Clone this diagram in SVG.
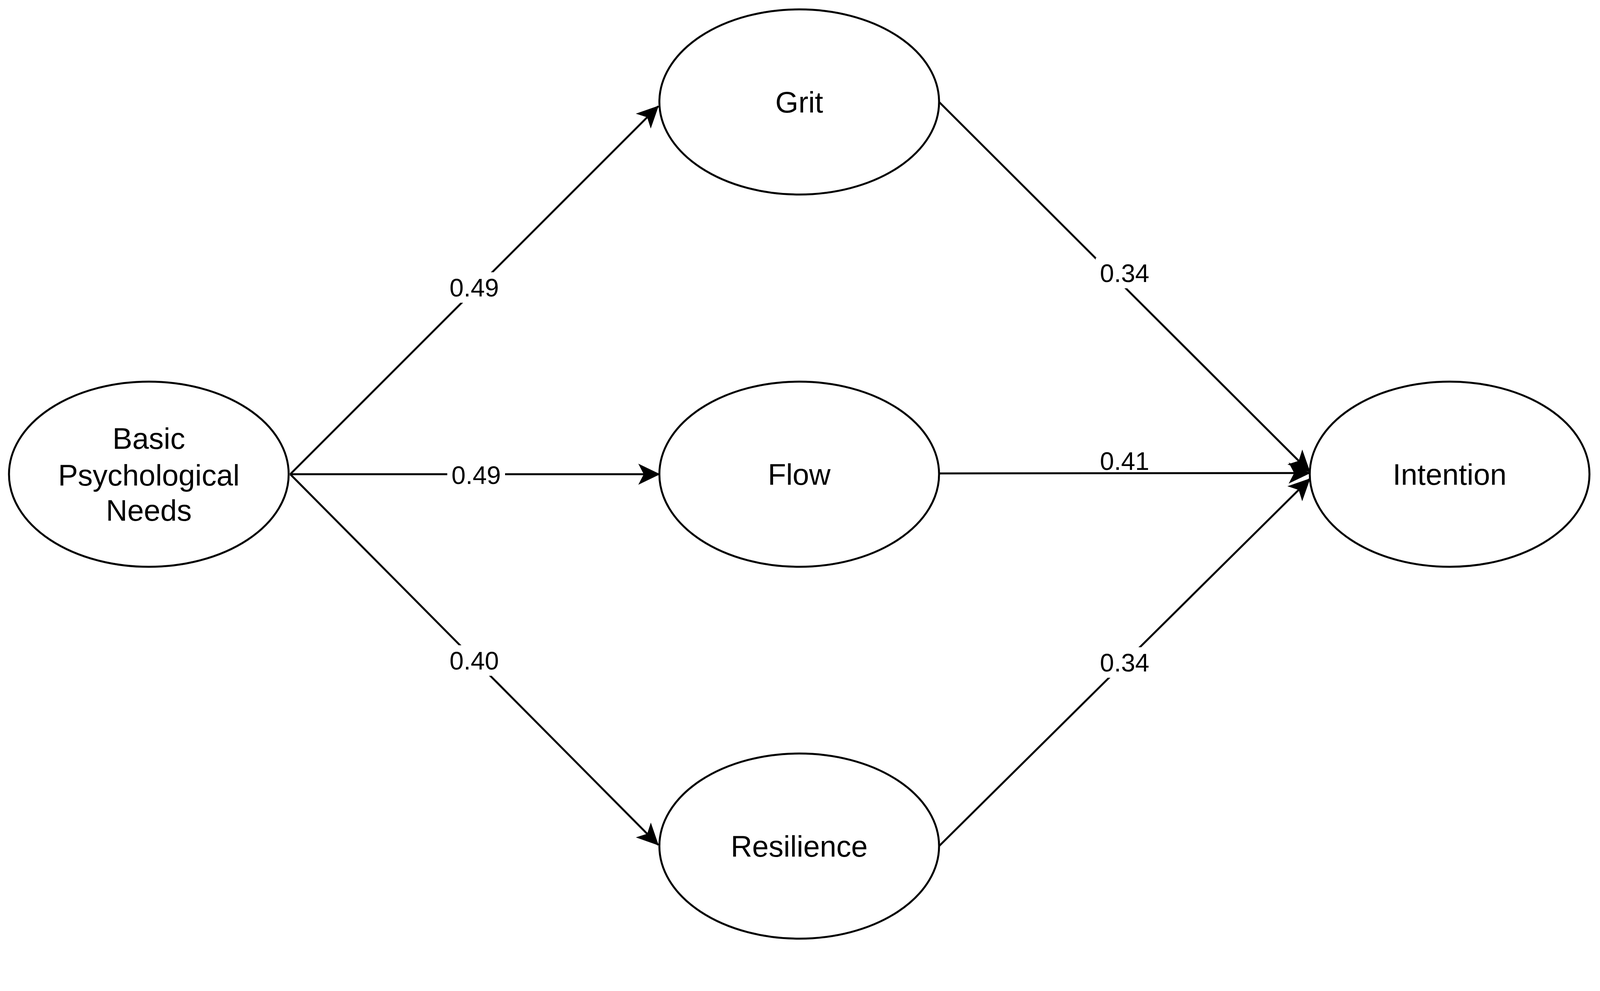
<svg xmlns="http://www.w3.org/2000/svg" width="4278" height="2537" viewBox="0 0 4278 2537">
<style>
.n{fill:#fff;stroke:#000;stroke-width:5}
.e{fill:none;stroke:#000;stroke-width:5;marker-end:url(#a)}
.t{font-family:"Liberation Sans",Arial,sans-serif;font-size:76px;text-anchor:middle;dominant-baseline:central;fill:#000}
.l{font-family:"Liberation Sans",Arial,sans-serif;font-size:65px;text-anchor:middle;dominant-baseline:central;fill:#000}
</style>
<defs>
<marker id="a" markerUnits="userSpaceOnUse" markerWidth="60" markerHeight="60" viewBox="0 0 60 60" refX="54" refY="30" orient="auto">
<path d="M0,3 L56,30 L0,57 L14,30 Z" fill="#000"/>
</marker>
</defs>
<rect width="4278" height="2537" fill="#fff"/>
<g id="connectors">
<path class="e" d="M743,1214 L1685,272"/>
<path class="e" d="M743,1214 L1688,1214"/>
<path class="e" d="M743,1214 L1685,2163"/>
<path class="e" d="M2404,261 L3353,1208"/>
<path class="e" d="M2404,1212 L3353,1211"/>
<path class="e" d="M2404,2166 L3353,1226"/>
<g>
<rect x="1140" y="697" width="148" height="78" fill="#fff"/><text class="l" x="1214" y="736">0.49</text>
<rect x="1145" y="1180" width="148" height="72" fill="#fff"/><text class="l" x="1219" y="1216">0.49</text>
<rect x="1140" y="1652" width="148" height="78" fill="#fff"/><text class="l" x="1214" y="1691">0.40</text>
<rect x="2805" y="660" width="148" height="78" fill="#fff"/><text class="l" x="2879" y="699">0.34</text>
<rect x="2805" y="1144" width="148" height="64" fill="#fff"/><text class="l" x="2879" y="1180">0.41</text>
<rect x="2805" y="1657" width="148" height="78" fill="#fff"/><text class="l" x="2879" y="1696">0.34</text>
</g>
</g>
<g id="basic"><ellipse class="n" cx="381" cy="1214" rx="358" ry="237"/>
<text class="t" x="381" y="1122">Basic</text><text class="t" x="381" y="1216">Psychological</text><text class="t" x="381" y="1306">Needs</text></g>
<g id="grit"><ellipse class="n" cx="2046" cy="261" rx="358" ry="237"/><text class="t" x="2046" y="261">Grit</text></g>
<g id="flow"><ellipse class="n" cx="2046" cy="1214" rx="358" ry="237"/><text class="t" x="2046" y="1214">Flow</text></g>
<g id="resilience"><ellipse class="n" cx="2046" cy="2166" rx="358" ry="237"/><text class="t" x="2046" y="2166">Resilience</text></g>
<g id="intention"><ellipse class="n" cx="3711" cy="1214" rx="358" ry="237"/><text class="t" x="3711" y="1214">Intention</text></g>
</svg>
